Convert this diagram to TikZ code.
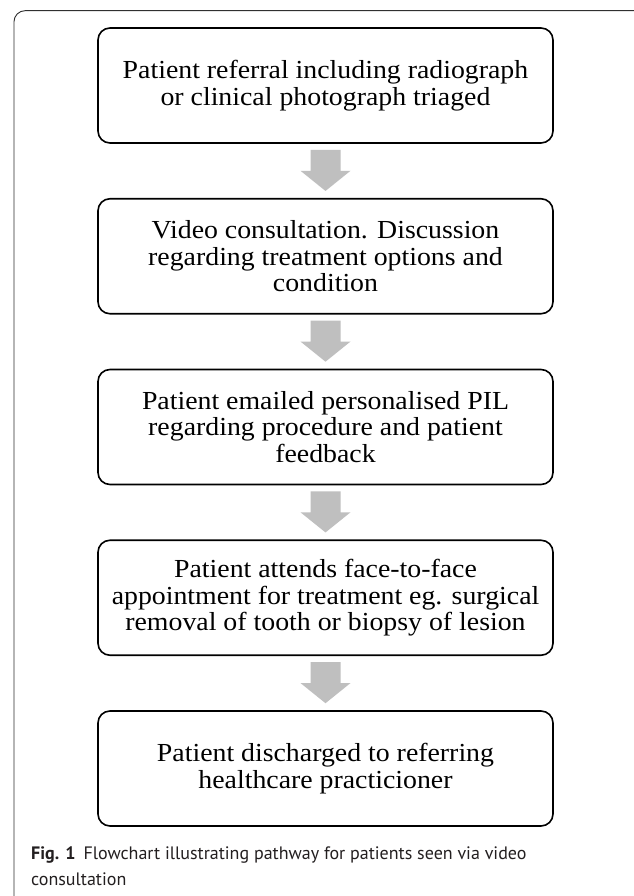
\documentclass[tikz,border=0pt]{standalone}
\usepackage{fontspec}
\setmainfont{Liberation Serif}[FakeStretch=1.07]
\newfontfamily\capfont{PT Sans}
\usetikzlibrary{calc}
\definecolor{arrowgray}{HTML}{BFBFBF}
\definecolor{framecol}{HTML}{303030}
\definecolor{captext}{HTML}{231F20}
\tikzset{
  stepbox/.style={draw=black, line width=1.6pt, rounded corners=12pt,
    minimum width=455pt, minimum height=115pt, inner sep=0pt,
    align=center, font=\fontsize{26}{26.5}\selectfont, text=black},
  captxt/.style={anchor=base west, inner sep=0pt, text=captext,
    font=\capfont\fontsize{18}{27}\selectfont},
  blockfill/.style={fill=arrowgray}
}
\newcommand\blockarr[2]{%
  \fill[blockfill] ($(#1.south)+(-15,6)$) -- ($(#1.south)+(15,6)$) --
    ($(#1.south)+(15,27)$) -- ($(#1.south)+(25,27)$) --
    ($(#2.north)+(0,-7)$) -- ($(#1.south)+(-25,27)$) --
    ($(#1.south)+(-15,27)$) -- cycle;}
\begin{document}
\begin{tikzpicture}[x=1pt,y=-1pt]
\useasboundingbox (0,0) rectangle (633,896);
\fill[white] (0,0) rectangle (633,896);
\draw[framecol, line width=0.9pt, rounded corners=11pt] (14,900) -- (14,10.7) -- (640,10.7);
\node[stepbox] (b1) at (325.5,85.5) {Patient referral including radiograph\\or clinical photograph triaged};
\node[stepbox] (b2) at (325.5,256.25) {Video consultation. Discussion\\regarding treatment options and\\condition};
\node[stepbox] (b3) at (325.5,427) {Patient emailed personalised PIL\\regarding procedure and patient\\feedback};
\node[stepbox] (b4) at (325.5,597.75) {Patient attends face-to-face\\appointment for treatment eg. surgical\\removal of tooth or biopsy of lesion};
\node[stepbox] (b5) at (325.5,768.5) {Patient discharged to referring\\healthcare practicioner};
\blockarr{b1}{b2}
\blockarr{b2}{b3}
\blockarr{b3}{b4}
\blockarr{b4}{b5}
\node[captxt] (cap1) at (31,859) {\textbf{Fig. 1}\hspace{8pt}Flowchart illustrating pathway for patients seen via video};
\node[captxt] (cap2) at (31,885) {consultation};
\end{tikzpicture}
\end{document}
